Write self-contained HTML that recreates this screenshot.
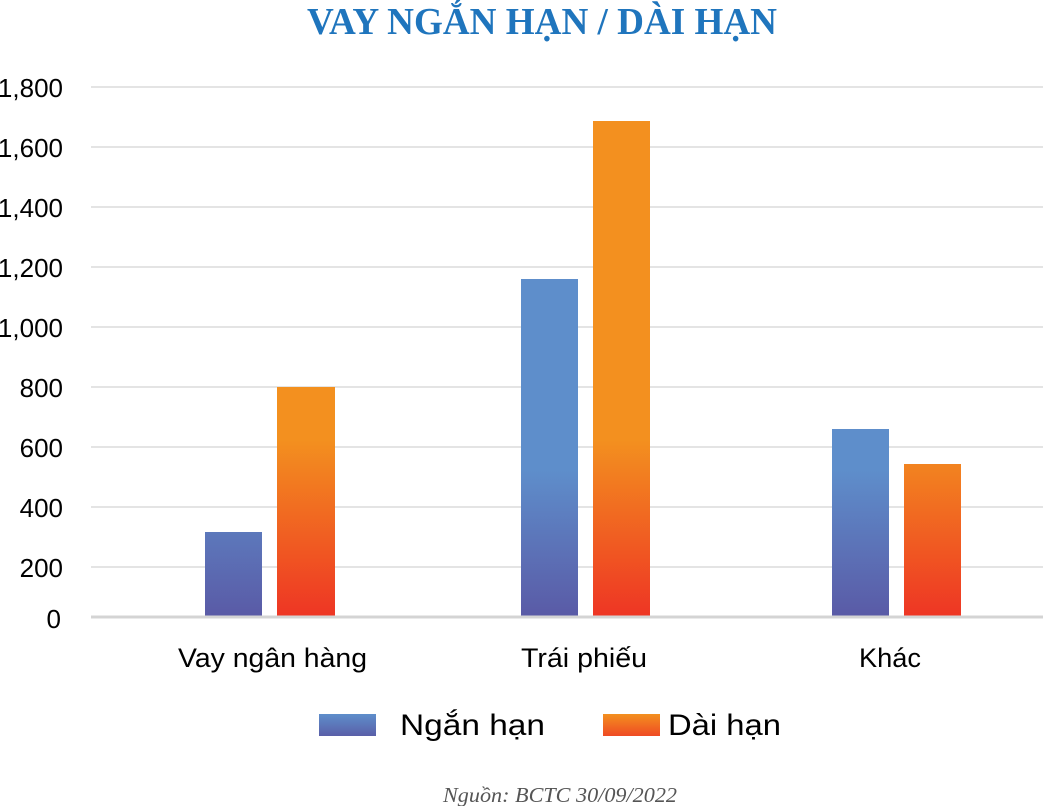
<!DOCTYPE html>
<html><head><meta charset="utf-8">
<style>html,body{margin:0;padding:0;background:#fff;}svg{display:block;}</style>
</head><body>
<svg width="1043" height="806" viewBox="0 0 1043 806" xmlns="http://www.w3.org/2000/svg">
<defs>
<linearGradient id="gb" gradientUnits="userSpaceOnUse" x1="0" y1="470" x2="0" y2="617">
<stop offset="0" stop-color="#5e8ecb"/><stop offset="1" stop-color="#5a5aa6"/></linearGradient>
<linearGradient id="go" gradientUnits="userSpaceOnUse" x1="0" y1="440" x2="0" y2="617">
<stop offset="0" stop-color="#f3901f"/><stop offset="1" stop-color="#ee3524"/></linearGradient>
<linearGradient id="gbl" x1="0" y1="0" x2="0" y2="1">
<stop offset="0" stop-color="#5e8ecb"/><stop offset="1" stop-color="#5a5fa8"/></linearGradient>
<linearGradient id="gol" x1="0" y1="0" x2="0" y2="1">
<stop offset="0" stop-color="#f3901f"/><stop offset="1" stop-color="#ef4a24"/></linearGradient>
</defs>
<text x="542" y="34" text-anchor="middle" font-family="Liberation Sans, sans-serif" font-weight="bold" font-size="38" fill="#1f75bd" textLength="470" lengthAdjust="spacingAndGlyphs" style="font-family:'Liberation Serif',serif">VAY NGẮN HẠN / DÀI HẠN</text>
<g stroke="#d4d4d4" stroke-width="1.2">
<line x1="91" y1="87" x2="1043" y2="87"/><line x1="91" y1="147" x2="1043" y2="147"/>
<line x1="91" y1="207" x2="1043" y2="207"/><line x1="91" y1="267" x2="1043" y2="267"/>
<line x1="91" y1="327" x2="1043" y2="327"/><line x1="91" y1="387" x2="1043" y2="387"/>
<line x1="91" y1="447" x2="1043" y2="447"/><line x1="91" y1="507" x2="1043" y2="507"/>
<line x1="91" y1="567" x2="1043" y2="567"/>
</g>
<g font-family="Liberation Sans, sans-serif" font-size="26" fill="#000" text-anchor="end">
<text x="63" y="97">1,800</text><text x="63" y="157">1,600</text><text x="63" y="217">1,400</text>
<text x="63" y="277">1,200</text><text x="63" y="337">1,000</text><text x="63" y="397">800</text>
<text x="63" y="457">600</text><text x="63" y="517">400</text><text x="63" y="577">200</text>
<text x="61" y="628">0</text>
</g>
<rect x="205" y="532" width="57" height="85" fill="url(#gb)"/>
<rect x="277" y="387" width="58" height="230" fill="url(#go)"/>
<rect x="521" y="279" width="57" height="338" fill="url(#gb)"/>
<rect x="593" y="121" width="57" height="496" fill="url(#go)"/>
<rect x="832" y="429" width="57" height="188" fill="url(#gb)"/>
<rect x="904" y="464" width="57" height="153" fill="url(#go)"/>
<line x1="91" y1="617" x2="1043" y2="617" stroke="#d4d4d4" stroke-width="3"/>
<g font-family="Liberation Sans, sans-serif" font-size="27" fill="#000">
<text x="178" y="667" textLength="189" lengthAdjust="spacingAndGlyphs">Vay ngân hàng</text>
<text x="521" y="667" textLength="126" lengthAdjust="spacingAndGlyphs">Trái phiếu</text>
<text x="859" y="667" textLength="62" lengthAdjust="spacingAndGlyphs">Khác</text>
</g>
<rect x="319" y="714" width="57" height="22" fill="url(#gbl)"/>
<text x="400" y="735" font-family="Liberation Sans, sans-serif" font-size="30" fill="#000" textLength="145" lengthAdjust="spacingAndGlyphs">Ngắn hạn</text>
<rect x="603" y="714" width="57" height="22" fill="url(#gol)"/>
<text x="668" y="735" font-family="Liberation Sans, sans-serif" font-size="30" fill="#000" textLength="113" lengthAdjust="spacingAndGlyphs">Dài hạn</text>
<text x="443" y="802" font-family="Liberation Serif, serif" font-style="italic" font-size="21" fill="#555" textLength="234" lengthAdjust="spacingAndGlyphs">Nguồn: BCTC 30/09/2022</text>
</svg>
</body></html>
